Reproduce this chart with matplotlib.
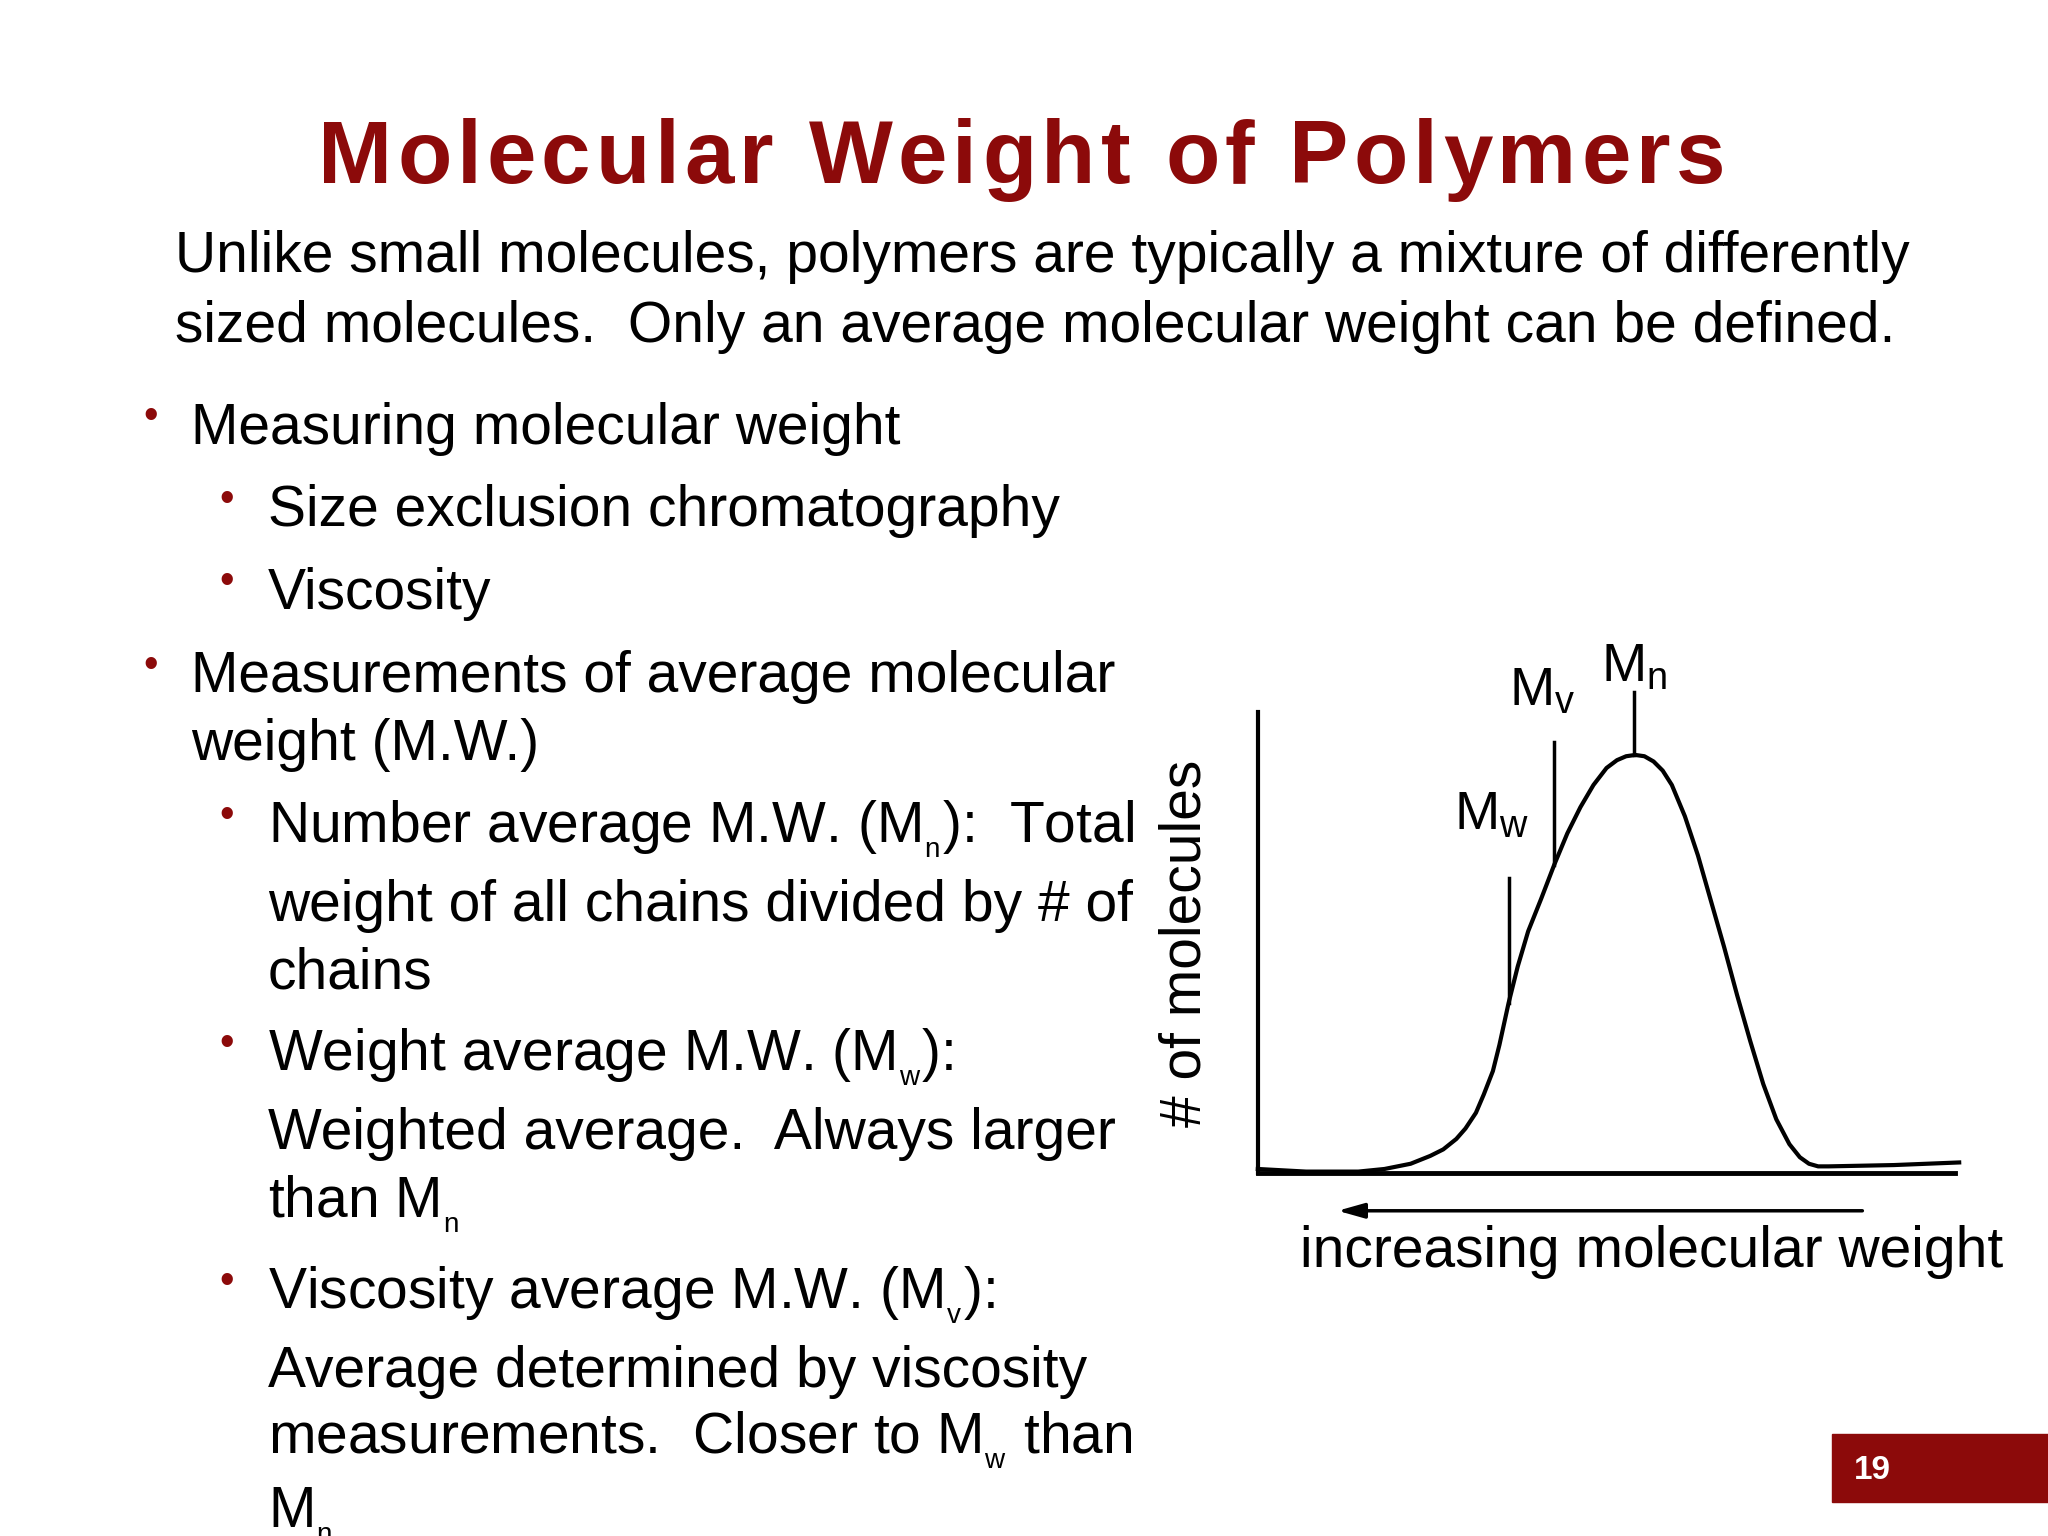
import matplotlib.pyplot as plt
from matplotlib.patches import Rectangle

plt.rcParams['font.family'] = ['Liberation Sans', 'DejaVu Sans']
plt.rcParams['mathtext.fontset'] = 'custom'
plt.rcParams['mathtext.rm'] = 'Liberation Sans'
plt.rcParams['mathtext.it'] = 'Liberation Sans'

RED = '#8c0a0a'

# distribution curve (slide pixel coords, 1568 wide)
curve_x = [963, 1000, 1040, 1060, 1080, 1095, 1105, 1115, 1122, 1130, 1136, 1143,
           1148, 1155, 1162, 1170, 1180, 1190, 1200, 1210, 1220, 1230, 1238, 1245,
           1252, 1259, 1266, 1273, 1280, 1290, 1300, 1310, 1320, 1330, 1340, 1350,
           1360, 1370, 1378, 1385, 1392, 1400, 1450, 1500]
curve_y = [895, 897, 897, 895, 891, 885, 880, 872, 864, 852, 838, 820,
           800, 768, 740, 713, 688, 662, 638, 618, 601, 588, 582, 579,
           578, 579, 583, 590, 601, 625, 655, 690, 725, 762, 797, 830,
           857, 876, 886, 891, 893, 893, 892, 890]
# average markers: x, top of line, where it meets curve
markers = {'w': (1155, 672, 768), 'v': (1190, 568, 662), 'n': (1251, 530, 578)}

lines = [
    # (x, baseline, text, bullet_x or None)
    (146, 340, "Measuring molecular weight", 110),
    (205, 403, "Size exclusion chromatography", 168),
    (205, 466, "Viscosity", 168),
    (146, 530, "Measurements of average molecular", 110),
    (146, 582, "weight (M.W.)", None),
    (205, 645, r"Number average M.W. (M$_\mathregular{_n}$):  Total", 168),
    (205, 705, "weight of all chains divided by # of", None),
    (205, 757, "chains", None),
    (205, 820, r"Weight average M.W. (M$_\mathregular{_w}$):", 168),
    (205, 880, "Weighted average.  Always larger", None),
    (205, 932, r"than M$_\mathregular{_n}$", None),
    (205, 1002, r"Viscosity average M.W. (M$_\mathregular{_v}$):", 168),
    (205, 1062, "Average determined by viscosity", None),
    (205, 1113, r"measurements.  Closer to M$_\mathregular{_w}$ than", None),
    (205, 1170, r"M$_\mathregular{_n}$", None),
]

fig = plt.figure(figsize=(20.48, 15.36), dpi=100)
ax = fig.add_axes([0, 0, 1, 1])
ax.set_xlim(0, 1568)
ax.set_ylim(1176, 0)
ax.axis('off')

# title with wide letter spacing
title = "Molecular Weight of Polymers"
renderer = fig.canvas.get_renderer()
widths = []
for ch in title:
    t = ax.text(0, 0, ch if ch != ' ' else 'i', fontsize=64, fontweight='bold')
    widths.append(t.get_window_extent(renderer).width * 1568 / 2048)
    t.remove()
track = 3.9
total = sum(widths) + track * (len(title) - 1)
x = 242 + (1080 - total) / 2
for ch, w in zip(title, widths):
    if ch != ' ':
        ax.text(x, 140, ch, color=RED, fontsize=64, fontweight='bold', va='baseline')
    x += w + track

ax.text(134, 208, "Unlike small molecules, polymers are typically a mixture of differently",
        fontsize=41, va='baseline')
ax.text(134, 262, "sized molecules.  Only an average molecular weight can be defined.",
        fontsize=41, va='baseline')

for x, y, t, bx in lines:
    ax.text(x, y, t, fontsize=41, va='baseline')
    if bx is not None:
        ax.text(bx, y - 12, "\u2022", color=RED, fontsize=30, va='baseline')

# chart
ax.plot([963, 963], [545, 898], color='black', lw=3)
ax.plot([963, 1497], [898, 898], color='black', lw=3.5)
ax.plot(curve_x, curve_y, color='black', lw=3, solid_joinstyle='round')
for k, (mx, top, bot) in markers.items():
    ax.plot([mx, mx], [top, bot], color='black', lw=2.5)
ax.annotate("", xy=(1022, 927), xytext=(1428, 927),
            arrowprops=dict(arrowstyle='-|>,head_length=1.6,head_width=0.45',
                            color='black', lw=2.5))
ax.text(1113, 635, r"M$_\mathrm{w}$", fontsize=39, va='baseline')
ax.text(1155, 540, r"M$_\mathrm{v}$", fontsize=39, va='baseline')
ax.text(1226, 522, r"M$_\mathrm{n}$", fontsize=39, va='baseline')
ax.text(908, 722, "# of molecules", fontsize=41, rotation=90, ha='center', va='center')
ax.text(995, 970, "increasing molecular weight", fontsize=41, va='baseline')

# page number
ax.add_patch(Rectangle((1403, 1098), 165, 52, color=RED))
ax.text(1419, 1126, "19", color='white', fontsize=24, fontweight='bold', va='center')

fig.savefig('out.png', dpi=100)
